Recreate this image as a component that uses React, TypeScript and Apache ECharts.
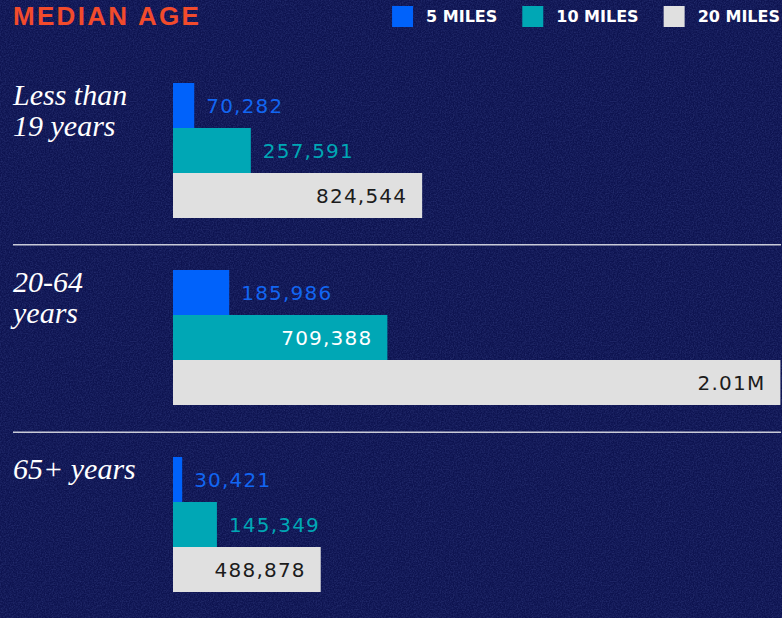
import React, { useEffect, useRef } from 'react';
import * as echarts from 'echarts';

const categories = ['Less than\n19 years', '20-64\nyears', '65+ years'];
const seriesNames = ['5 MILES', '10 MILES', '20 MILES'];
const miles5 = [70282, 185986, 30421];
const miles10 = [257591, 709388, 145349];
const miles20 = [824544, 2010000, 488878];
const seriesValues = [miles5, miles10, miles20];

const barColors = ['#0062fb', '#00a7b5', '#e0e0e0'];
const outsideLabelColors = ['#1266f2', '#00a7b5', '#1c1c1c'];
const insideLabelColors = ['#ffffff', '#ffffff', '#1c1c1c'];

const X_MAX = 2012000;
const GRID_LEFT = 173;
const GRID_TOP = 57;
const GRID_HEIGHT = 563;

const fmt = (v: number) =>
  v >= 1e6 ? (v / 1e6).toFixed(2) + 'M' : v.toLocaleString('en-US');

const noise =
  "url(\"data:image/svg+xml;utf8,<svg xmlns='http://www.w3.org/2000/svg' width='240' height='240'><filter id='n'><feTurbulence type='fractalNoise' baseFrequency='0.75' numOctaves='2' stitchTiles='stitch'/><feColorMatrix type='matrix' values='0 0 0 0 0.3  0 0 0 0 0.4  0 0 0 0 1  0.3 0 0 0 -0.1'/></filter><rect width='100%' height='100%' filter='url(%23n)'/></svg>\")";

export default function App() {
  const ref = useRef<HTMLDivElement>(null);

  useEffect(() => {
    document.body.style.margin = '0';
    const el = ref.current!;
    const chart = echarts.init(el, undefined, { renderer: 'svg' });

    const band = GRID_HEIGHT / categories.length;
    const sepLines = [1, 2].map((i) => ({
      type: 'line',
      shape: { x1: 13, y1: GRID_TOP + band * i, x2: 781, y2: GRID_TOP + band * i },
      style: { stroke: '#c9cbd8', lineWidth: 1.5 },
      silent: true,
    }));

    const series = seriesValues.map((values, i) => ({
      type: 'bar',
      name: seriesNames[i],
      barWidth: 45,
      barGap: '0%',
      itemStyle: { color: barColors[i] },
      label: {
        show: true,
        formatter: (p: any) => fmt(p.value),
        fontFamily: 'DejaVu Sans',
        fontSize: 20,
      },
      data: values.map((v) => {
        const inside = v > 400000;
        return {
          value: v,
          label: {
            position: inside ? 'insideRight' : 'right',
            distance: inside ? 15 : 12,
            color: inside ? insideLabelColors[i] : outsideLabelColors[i],
          },
        };
      }),
    }));

    chart.setOption({
      animation: false,
      backgroundColor: 'transparent',
      title: {
        text: 'MEDIAN AGE',
        left: 13,
        top: 3,
        padding: 0,
        textStyle: {
          color: '#f24b2c',
          fontFamily: 'Liberation Sans',
          fontWeight: 'bold',
          fontSize: 26,
        },
      },
      legend: {
        right: 2,
        top: 6,
        padding: 0,
        itemWidth: 21,
        itemHeight: 21,
        itemGap: 25,
        icon: 'rect',
        data: seriesNames,
        textStyle: {
          color: '#ffffff',
          fontFamily: 'DejaVu Sans',
          fontWeight: 'bold',
          fontSize: 16,
          padding: [0, 0, 0, 8],
        },
      },
      grid: { left: GRID_LEFT, right: 1, top: GRID_TOP, height: GRID_HEIGHT, containLabel: false },
      xAxis: { type: 'value', min: 0, max: X_MAX, show: false },
      yAxis: {
        type: 'category',
        data: categories,
        inverse: true,
        axisLine: { show: false },
        axisTick: { show: false },
        splitLine: { show: false },
        axisLabel: {
          align: 'left',
          margin: 160,
          verticalAlign: 'bottom',
          padding: [0, 0, 10, 0],
          fontFamily: 'Liberation Serif',
          fontStyle: 'italic',
          fontSize: 30,
          lineHeight: 31,
          color: '#ffffff',
          formatter: (v: string) => (v.indexOf('\n') >= 0 ? v : v + '\n '),
        },
      },
      graphic: sepLines,
      series,
    });

    const applySpacing = () => {
      el.querySelectorAll('text').forEach((t) => {
        const s = (t.textContent || '').trim();
        if (s === 'MEDIAN AGE') (t as any).style.letterSpacing = '2.3px';
        else if (/^[\d,.]+M?$/.test(s)) (t as any).style.letterSpacing = '1.2px';
      });
    };
    applySpacing();
    chart.on('finished', applySpacing);

    return () => {
      chart.dispose();
    };
  }, []);

  return (
    <div
      style={{
        position: 'fixed',
        left: 0,
        top: 0,
        width: 782,
        height: 618,
        backgroundColor: '#0d1350',
        backgroundImage: noise,
      }}
    >
      <div ref={ref} style={{ width: 782, height: 618 }} />
    </div>
  );
}
